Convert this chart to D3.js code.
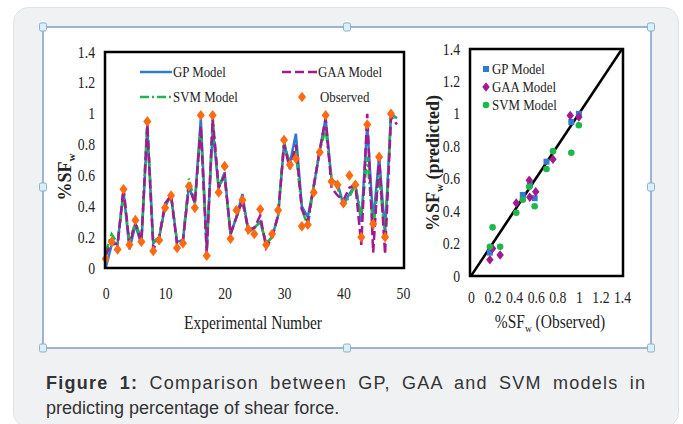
<!DOCTYPE html>
<html>
<head>
<meta charset="utf-8">
<script src="https://cdn.jsdelivr.net/npm/d3@7"></script>
<style>
  body { margin: 0; background: #fff; }
  svg { display: block; }
</style>
</head>
<body>
<svg id="fig" width="683" height="424"></svg>
<script>
// observed %SFw for experiments 0..48
var observed = [0.06,0.17,0.12,0.51,0.15,0.31,0.17,0.95,0.11,0.18,
  0.39,0.47,0.13,0.16,0.53,0.39,0.99,0.08,0.99,0.49,
  0.66,0.19,0.375,0.44,0.25,0.22,0.38,0.15,0.22,0.375,
  0.83,0.67,0.71,0.27,0.28,0.49,0.75,0.99,0.56,0.54,
  0.42,0.60,0.54,0.20,0.93,0.285,0.72,0.20,1.0];
// model predictions for experiments 0..49
var gp = [0.0,0.15,0.16,0.5,0.12,0.28,0.15,0.9,0.16,0.2,
  0.4,0.47,0.17,0.18,0.53,0.42,0.97,0.13,0.9,0.52,
  0.62,0.22,0.33,0.48,0.23,0.26,0.3,0.16,0.2,0.34,
  0.8,0.68,0.87,0.4,0.33,0.53,0.76,0.97,0.57,0.55,
  0.41,0.48,0.54,0.3,0.93,0.3,0.72,0.23,1.0,0.97];
var gaa = [0.08,0.17,0.15,0.52,0.15,0.29,0.17,0.93,0.12,0.2,
  0.42,0.47,0.15,0.18,0.53,0.42,0.92,0.09,0.97,0.52,
  0.6,0.22,0.33,0.44,0.25,0.26,0.34,0.13,0.2,0.34,
  0.8,0.64,0.8,0.38,0.3,0.53,0.76,0.97,0.52,0.47,
  0.44,0.52,0.54,0.15,1.0,0.1,0.72,0.09,0.98,0.93];
var svm = [0.1,0.22,0.16,0.48,0.17,0.3,0.18,0.95,0.17,0.2,
  0.4,0.47,0.17,0.18,0.58,0.42,0.9,0.11,0.97,0.52,
  0.6,0.22,0.33,0.43,0.25,0.26,0.3,0.16,0.2,0.34,
  0.82,0.66,0.75,0.38,0.27,0.53,0.76,0.9,0.58,0.52,
  0.41,0.46,0.54,0.33,0.72,0.25,0.6,0.2,0.99,0.97];

// scatter (observed, predicted)
var gpObs  = [0.175,0.48,0.545,0.59,0.70,0.93,1.0];
var gpPred = [0.144,0.50,0.56,0.48,0.705,0.95,1.0];
var gaaObs  = [0.175,0.2,0.27,0.42,0.54,0.545,0.6,0.76,0.92,1.0];
var gaaPred = [0.10,0.17,0.13,0.45,0.59,0.485,0.52,0.72,0.99,0.98];
var svmObs  = [0.175,0.2,0.27,0.42,0.48,0.54,0.59,0.70,0.76,0.93,1.0];
var svmPred = [0.18,0.30,0.18,0.39,0.47,0.55,0.43,0.66,0.77,0.76,0.93];

var yTicks = [0,0.2,0.4,0.6,0.8,1,1.2,1.4];
var xTicksLeft = [0,10,20,30,40,50];
var xTicksRight = [0,0.2,0.4,0.6,0.8,1,1.2,1.4];

var cBlue = "#2f7bd0", cMag = "#a3198f", cGreen = "#1db84a", cOrange = "#ff6a10";
var serif = "'Liberation Serif','Times New Roman',serif";
var SQ = 0.86; // horizontal squeeze of the original picture

var svg = d3.select("#fig");

// card
svg.append("rect").attr("x",13.5).attr("y",7.5).attr("width",665).attr("height",420)
  .attr("rx",15).attr("fill","#f0f1f3").attr("stroke","#dfe2e6");
// image area
svg.append("rect").attr("x",43).attr("y",27).attr("width",608).attr("height",321)
  .attr("fill","#fff").attr("stroke","#7f9fc2").attr("stroke-width",1.5);
var handles = [[43,27],[347,27],[651,27],[43,187],[651,187],[43,348],[347,348],[651,348]];
handles.forEach(function(h){
  svg.append("rect").attr("x",h[0]-3.5).attr("y",h[1]-4).attr("width",7).attr("height",8)
    .attr("rx",1.5).attr("fill","#d9f1f6").attr("stroke","#8fb0cc").attr("stroke-width",1);
});

function squeeze(sel) {
  // squash text horizontally like the source image
  sel.each(function(){
    var t = d3.select(this);
    var x = +t.attr("x") || 0;
    t.attr("transform", "translate(" + x + ",0) scale(" + SQ + ",1) translate(" + (-x) + ",0)");
  });
}

function styleAxis(g) {
  g.select(".domain").remove();
  g.selectAll("text").attr("font-family", serif).attr("font-size", 16).attr("fill","#222");
}

var diamond = d3.symbol().type(d3.symbolDiamond).size(36);

// ---------------- left chart ----------------
var x1 = d3.scaleLinear().domain([0,50]).range([105.7,402.9]);
var y1 = d3.scaleLinear().domain([0,1.4]).range([268,52]);

var gl = svg.append("g");
gl.append("g").attr("transform","translate(105,0)")
  .call(d3.axisLeft(y1).tickValues(yTicks).tickSize(0).tickPadding(10).tickFormat(d3.format("")))
  .call(styleAxis).selectAll("text").call(squeeze);
gl.append("g").attr("transform","translate(0,268)")
  .call(d3.axisBottom(x1).tickValues(xTicksLeft).tickSize(0).tickPadding(20))
  .call(styleAxis).selectAll("text").call(squeeze);

var line1 = d3.line().x(function(d,i){ return x1(i); }).y(function(d){ return y1(d); });
gl.append("path").datum(gp).attr("d",line1).attr("fill","none").attr("stroke",cBlue).attr("stroke-width",2.5);
gl.append("path").datum(svm).attr("d",line1).attr("fill","none").attr("stroke",cGreen).attr("stroke-width",2.5)
  .attr("stroke-dasharray","9,3,2,3");
gl.append("path").datum(gaa).attr("d",line1).attr("fill","none").attr("stroke",cMag).attr("stroke-width",2.5)
  .attr("stroke-dasharray","9,4");
gl.selectAll(".obs").data(observed).enter().append("path")
  .attr("d", diamond)
  .attr("transform", function(d,i){ return "translate(" + x1(i) + "," + y1(d) + ") scale(1.25,0.95)"; })
  .attr("fill", cOrange);

gl.append("rect").attr("x",105).attr("y",52).attr("width",299).attr("height",216)
  .attr("fill","none").attr("stroke","#000").attr("stroke-width",2.5);

// legend
function legText(g, x, y, s) {
  g.append("text").attr("x",x).attr("y",y).attr("dy","0.35em").attr("font-family",serif)
    .attr("font-size",15).attr("fill","#222").text(s).call(squeeze);
}
gl.append("line").attr("x1",140).attr("x2",172).attr("y1",72).attr("y2",72).attr("stroke",cBlue).attr("stroke-width",2.5);
legText(gl,173,72,"GP Model");
gl.append("line").attr("x1",282).attr("x2",317).attr("y1",72).attr("y2",72).attr("stroke",cMag).attr("stroke-width",2.5).attr("stroke-dasharray","9,4");
legText(gl,318,72,"GAA Model");
gl.append("line").attr("x1",140).attr("x2",172).attr("y1",97).attr("y2",97).attr("stroke",cGreen).attr("stroke-width",2.5).attr("stroke-dasharray","9,3,2,3");
legText(gl,173,97,"SVM Model");
gl.append("path").attr("d", diamond)
  .attr("transform","translate(302,97) scale(1.25,0.95)").attr("fill",cOrange);
legText(gl,320,97,"Observed");

// axis titles
var xl = gl.append("text").attr("x",253).attr("y",329).attr("text-anchor","middle")
  .attr("font-family",serif).attr("font-size",18).attr("fill","#222").text("Experimental Number");
xl.call(squeeze);
var yl = gl.append("text").attr("transform","translate(71,177) rotate(-90)").attr("text-anchor","middle")
  .attr("font-family",serif).attr("font-size",18).attr("font-weight","bold").attr("fill","#222");
yl.append("tspan").text("%SF");
yl.append("tspan").attr("font-size",11).attr("dy",4).text("w");

// ---------------- right chart ----------------
var x2 = d3.scaleLinear().domain([0,1.4]).range([471,622]);
var y2 = d3.scaleLinear().domain([0,1.4]).range([276,49]);

var gr = svg.append("g");
gr.append("g").attr("transform","translate(470,0)")
  .call(d3.axisLeft(y2).tickValues(yTicks).tickSize(0).tickPadding(10).tickFormat(d3.format("")))
  .call(styleAxis).selectAll("text").call(squeeze);
gr.append("g").attr("transform","translate(0,276)")
  .call(d3.axisBottom(x2).tickValues(xTicksRight).tickSize(0).tickPadding(16).tickFormat(d3.format("")))
  .call(styleAxis).selectAll("text").call(squeeze);

gr.append("line").attr("x1",x2(0)).attr("y1",y2(0)).attr("x2",x2(1.4)).attr("y2",y2(1.4))
  .attr("stroke","#000").attr("stroke-width",2.5);

gr.selectAll(".gp").data(gpObs).enter().append("rect")
  .attr("x",function(d){ return x2(d)-3; }).attr("y",function(d,i){ return y2(gpPred[i])-3; })
  .attr("width",6).attr("height",6).attr("fill",cBlue);
gr.selectAll(".gaa").data(gaaObs).enter().append("path")
  .attr("d", diamond)
  .attr("transform",function(d,i){ return "translate(" + x2(d) + "," + y2(gaaPred[i]) + ") scale(1.15,0.85)"; })
  .attr("fill",cMag);
gr.selectAll(".svm").data(svmObs).enter().append("circle")
  .attr("cx",function(d){ return x2(d); }).attr("cy",function(d,i){ return y2(svmPred[i]); })
  .attr("r",3.3).attr("fill",cGreen);

gr.append("rect").attr("x",470).attr("y",49).attr("width",153).attr("height",227)
  .attr("fill","none").attr("stroke","#000").attr("stroke-width",2.5);

gr.append("rect").attr("x",483).attr("y",66).attr("width",6).attr("height",6).attr("fill",cBlue);
legText(gr,492,69,"GP Model");
gr.append("path").attr("d", diamond).attr("transform","translate(486,87) scale(1.15,0.85)").attr("fill",cMag);
legText(gr,492,87,"GAA Model");
gr.append("circle").attr("cx",486).attr("cy",105).attr("r",3.3).attr("fill",cGreen);
legText(gr,492,105,"SVM Model");

var xl2 = gr.append("text").attr("x",550).attr("y",328).attr("text-anchor","middle")
  .attr("font-family",serif).attr("font-size",18).attr("fill","#222");
xl2.append("tspan").text("%SF");
xl2.append("tspan").attr("font-size",11).attr("dy",4).text("w");
xl2.append("tspan").attr("dy",-4).text(" (Observed)");
xl2.call(squeeze);
var yl2 = gr.append("text").attr("transform","translate(439,163) rotate(-90)").attr("text-anchor","middle")
  .attr("font-family",serif).attr("font-size",18).attr("font-weight","bold").attr("fill","#222");
yl2.append("tspan").text("%SF");
yl2.append("tspan").attr("font-size",11).attr("dy",4).text("w");
yl2.append("tspan").attr("dy",-4).text(" (predicted)");

// ---------------- caption ----------------
var sans = "'Liberation Sans',Arial,sans-serif";
var capLine1 = " Comparison between GP, GAA and SVM models in";
var cap1 = svg.append("text").attr("x",46).attr("y",389).attr("font-family",sans).attr("font-size",18)
  .attr("fill","#333");
cap1.append("tspan").attr("font-weight","bold").text("Figure 1:");
cap1.append("tspan").text(capLine1);
// justify first line: a bit of word gap, rest spread over the letters
var natural = cap1.node().getComputedTextLength();
var extra = Math.max(0, 599 - natural);
var gaps = 9, ws = Math.min(extra / gaps, 5);
var nChars = ("Figure 1:" + capLine1).length - 1;
cap1.attr("word-spacing", ws).attr("letter-spacing", (extra - ws * gaps) / nChars);
svg.append("text").attr("x",46).attr("y",414).attr("font-family",sans).attr("font-size",18)
  .attr("fill","#333").text("predicting percentage of shear force.");
</script>
</body>
</html>
